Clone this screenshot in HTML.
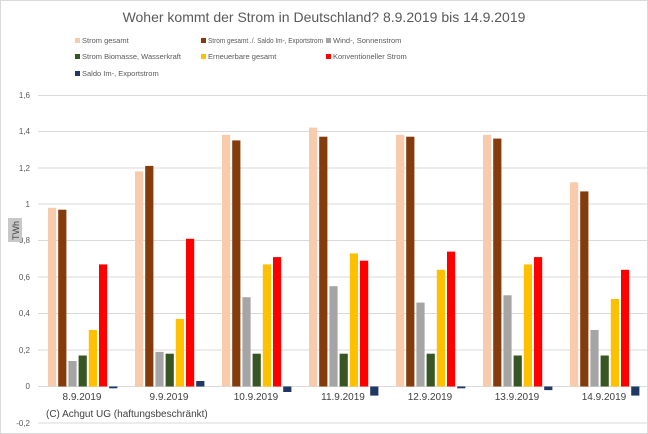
<!DOCTYPE html>
<html><head><meta charset="utf-8"><style>
body{margin:0;background:#fff}
svg{display:block;font-family:"Liberation Sans",sans-serif}
</style></head><body>
<svg width="648" height="434" xmlns="http://www.w3.org/2000/svg">
<rect x="0.5" y="0.5" width="647" height="433" fill="#fff" stroke="#d9d9d9"/>
<text x="324" y="22" text-anchor="middle" font-size="14" fill="#595959">Woher kommt der Strom in Deutschland? 8.9.2019 bis 14.9.2019</text>
<g font-size="7.5" fill="#595959">
<rect x="75" y="38" width="5" height="5" fill="#f8cbad"/><text x="82" y="43">Strom gesamt</text>
<rect x="201" y="38" width="5" height="5" fill="#843c0c"/><text x="208" y="43" textLength="115" lengthAdjust="spacingAndGlyphs">Strom gesamt ./. Saldo Im-, Exportstrom</text>
<rect x="326" y="38" width="5" height="5" fill="#a5a5a5"/><text x="333" y="43">Wind-, Sonnenstrom</text>
<rect x="75" y="54" width="5" height="5" fill="#375623"/><text x="82" y="59">Strom Biomasse, Wasserkraft</text>
<rect x="201" y="54" width="5" height="5" fill="#ffc000"/><text x="208" y="59">Erneuerbare gesamt</text>
<rect x="326" y="54" width="5" height="5" fill="#ff0000"/><text x="333" y="59">Konventioneller Strom</text>
<rect x="75" y="71" width="5" height="5" fill="#203864"/><text x="82" y="76">Saldo Im-, Exportstrom</text>
</g>
<g stroke="#d9d9d9" stroke-width="1">
<line x1="38" x2="648" y1="95.5" y2="95.5"/><line x1="38" x2="648" y1="131.5" y2="131.5"/>
<line x1="38" x2="648" y1="168" y2="168"/><line x1="38" x2="648" y1="204" y2="204"/>
<line x1="38" x2="648" y1="240.5" y2="240.5"/><line x1="38" x2="648" y1="277" y2="277"/>
<line x1="38" x2="648" y1="313.5" y2="313.5"/><line x1="38" x2="648" y1="350" y2="350"/>
<line x1="38" x2="648" y1="386.5" y2="386.5"/><line x1="38" x2="648" y1="423" y2="423"/>
</g>
<g font-size="8" fill="#595959" text-anchor="end">
<text x="30" y="98">1,6</text><text x="30" y="134">1,4</text><text x="30" y="171">1,2</text><text x="30" y="207">1</text>
<text x="30" y="243">0,8</text><text x="30" y="280">0,6</text><text x="30" y="316">0,4</text><text x="30" y="353">0,2</text>
<text x="30" y="389">0</text><text x="30" y="426">-0,2</text>
</g>
<rect x="8" y="218" width="14" height="24" fill="#c8c8c8"/>
<text transform="translate(19,240) rotate(-90)" font-size="9" fill="#404040">TWh</text>
<g>
<rect x="48" y="207.8" width="8.2" height="178.7" fill="#f8cbad"/>
<rect x="58.2" y="209.7" width="8.2" height="176.8" fill="#843c0c"/>
<rect x="68.4" y="361" width="8.2" height="25.5" fill="#a5a5a5"/>
<rect x="78.6" y="355.5" width="8.2" height="31" fill="#375623"/>
<rect x="88.8" y="330" width="8.2" height="56.5" fill="#ffc000"/>
<rect x="99" y="264.4" width="8.2" height="122.1" fill="#ff0000"/>
<rect x="109.2" y="386.5" width="8.2" height="1.8" fill="#203864"/>

<rect x="135" y="171.4" width="8.2" height="215.1" fill="#f8cbad"/>
<rect x="145.2" y="165.9" width="8.2" height="220.6" fill="#843c0c"/>
<rect x="155.4" y="351.9" width="8.2" height="34.6" fill="#a5a5a5"/>
<rect x="165.6" y="353.7" width="8.2" height="32.8" fill="#375623"/>
<rect x="175.8" y="319" width="8.2" height="67.5" fill="#ffc000"/>
<rect x="186" y="238.8" width="8.2" height="147.7" fill="#ff0000"/>
<rect x="196.2" y="381" width="8.2" height="5.5" fill="#203864"/>

<rect x="222" y="134.9" width="8.2" height="251.6" fill="#f8cbad"/>
<rect x="232.2" y="140.4" width="8.2" height="246.1" fill="#843c0c"/>
<rect x="242.4" y="297.2" width="8.2" height="89.3" fill="#a5a5a5"/>
<rect x="252.6" y="353.7" width="8.2" height="32.8" fill="#375623"/>
<rect x="262.8" y="264.4" width="8.2" height="122.1" fill="#ffc000"/>
<rect x="273" y="257.1" width="8.2" height="129.4" fill="#ff0000"/>
<rect x="283.2" y="386.5" width="8.2" height="5.5" fill="#203864"/>

<rect x="309" y="127.6" width="8.2" height="258.9" fill="#f8cbad"/>
<rect x="319.2" y="136.7" width="8.2" height="249.8" fill="#843c0c"/>
<rect x="329.4" y="286.2" width="8.2" height="100.3" fill="#a5a5a5"/>
<rect x="339.6" y="353.7" width="8.2" height="32.8" fill="#375623"/>
<rect x="349.8" y="253.4" width="8.2" height="133.1" fill="#ffc000"/>
<rect x="360" y="260.7" width="8.2" height="125.8" fill="#ff0000"/>
<rect x="370.2" y="386.5" width="8.2" height="9.1" fill="#203864"/>

<rect x="396" y="134.9" width="8.2" height="251.6" fill="#f8cbad"/>
<rect x="406.2" y="136.7" width="8.2" height="249.8" fill="#843c0c"/>
<rect x="416.4" y="302.6" width="8.2" height="83.9" fill="#a5a5a5"/>
<rect x="426.6" y="353.7" width="8.2" height="32.8" fill="#375623"/>
<rect x="436.8" y="269.8" width="8.2" height="116.7" fill="#ffc000"/>
<rect x="447" y="251.6" width="8.2" height="134.9" fill="#ff0000"/>
<rect x="457.2" y="386.5" width="8.2" height="1.8" fill="#203864"/>

<rect x="483" y="134.9" width="8.2" height="251.6" fill="#f8cbad"/>
<rect x="493.2" y="138.6" width="8.2" height="247.9" fill="#843c0c"/>
<rect x="503.4" y="295.3" width="8.2" height="91.2" fill="#a5a5a5"/>
<rect x="513.6" y="355.5" width="8.2" height="31" fill="#375623"/>
<rect x="523.8" y="264.4" width="8.2" height="122.1" fill="#ffc000"/>
<rect x="534" y="257.1" width="8.2" height="129.4" fill="#ff0000"/>
<rect x="544.2" y="386.5" width="8.2" height="3.6" fill="#203864"/>

<rect x="570" y="182.3" width="8.2" height="204.2" fill="#f8cbad"/>
<rect x="580.2" y="191.4" width="8.2" height="195.1" fill="#843c0c"/>
<rect x="590.4" y="330" width="8.2" height="56.5" fill="#a5a5a5"/>
<rect x="600.6" y="355.5" width="8.2" height="31" fill="#375623"/>
<rect x="610.8" y="299" width="8.2" height="87.5" fill="#ffc000"/>
<rect x="621" y="269.8" width="8.2" height="116.7" fill="#ff0000"/>
<rect x="631.2" y="386.5" width="8.2" height="9.1" fill="#203864"/>
</g>
<g font-size="10" fill="#404040" text-anchor="middle">
<text x="82" y="400">8.9.2019</text><text x="169" y="400">9.9.2019</text><text x="256" y="400">10.9.2019</text>
<text x="343" y="400">11.9.2019</text><text x="430" y="400">12.9.2019</text><text x="517" y="400">13.9.2019</text><text x="604" y="400">14.9.2019</text>
</g>
<text x="46" y="417" font-size="10" fill="#404040">(C) Achgut UG (haftungsbeschränkt)</text>
</svg>
</body></html>
